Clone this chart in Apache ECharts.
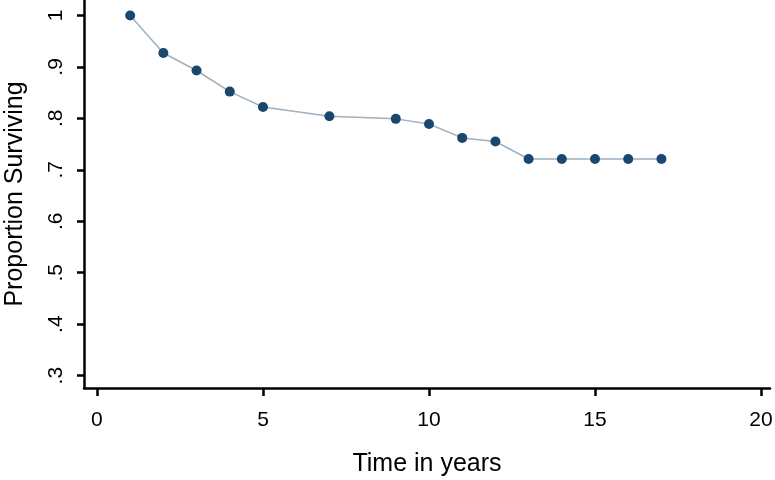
<!DOCTYPE html>
<html>
<head>
<meta charset="utf-8">
<script src="https://cdn.jsdelivr.net/npm/echarts@6/dist/echarts.min.js"></script>
<style>html,body{margin:0;padding:0;background:#fff}#c{width:775px;height:480px}</style>
</head>
<body>
<div id="c"></div>
<script>
const years = [1, 2, 3, 4, 5, 7, 9, 10, 11, 12, 13, 14, 15, 16, 17];
const surviving = [1.0, 0.927, 0.893, 0.852, 0.822, 0.804, 0.799, 0.789, 0.762, 0.755, 0.721, 0.721, 0.721, 0.721, 0.721];
const xTicks = [0, 5, 10, 15, 20];
const yTicks = [0.3, 0.4, 0.5, 0.6, 0.7, 0.8, 0.9, 1.0];
const yTickLabels = ['.3', '.4', '.5', '.6', '.7', '.8', '.9', '1'];

const chart = echarts.init(document.getElementById('c'));
const font = 'Liberation Sans, Arial, Helvetica, sans-serif';
chart.setOption({
  animation: false,
  backgroundColor: '#fff',
  grid: { left: 84, right: 5, top: 0, bottom: 92, containLabel: false, outerBoundsMode: 'none' },
  xAxis: {
    type: 'value', min: -0.39, max: 20.27,
    name: 'Time in years', nameLocation: 'middle', nameGap: 64, nameMoveOverlap: false,
    nameTextStyle: { fontFamily: font, fontSize: 25, color: '#000' },
    axisLine: { show: true, onZero: false, lineStyle: { color: '#000', width: 2.5 } },
    axisTick: { show: true, length: 8, lineStyle: { color: '#000', width: 2.5 }, customValues: xTicks },
    axisLabel: { fontFamily: font, fontSize: 21, color: '#000', margin: 22, customValues: xTicks, formatter: v => String(v) },
    splitLine: { show: false }
  },
  yAxis: {
    type: 'value', min: 0.276, max: 1.03,
    name: 'Proportion Surviving', nameLocation: 'middle', nameGap: 56, nameMoveOverlap: false,
    nameTextStyle: { fontFamily: font, fontSize: 25, color: '#000' },
    axisLine: { show: true, onZero: false, lineStyle: { color: '#000', width: 2.5 } },
    axisTick: { show: true, length: 7, lineStyle: { color: '#000', width: 2.5 }, customValues: yTicks },
    axisLabel: { fontFamily: font, fontSize: 21, color: '#000', margin: 17, rotate: 90, customValues: yTicks,
      formatter: v => { const i = yTicks.findIndex(t => Math.abs(t - v) < 1e-6); return i >= 0 ? yTickLabels[i] : ''; } },
    splitLine: { show: false }
  },
  series: [{
    type: 'line',
    data: years.map((x, i) => [x, surviving[i]]),
    symbol: 'circle', symbolSize: 10,
    itemStyle: { color: '#1a476f' },
    lineStyle: { color: '#9fb0be', width: 1.5 }
  }]
});
</script>
</body>
</html>
